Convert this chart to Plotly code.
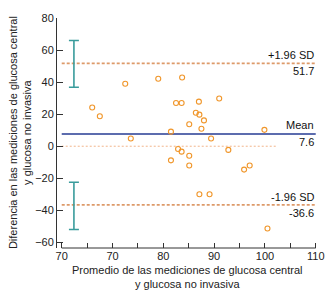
import plotly.graph_objects as go

# Data
mean_avg = [66.0, 67.5, 72.5, 73.6, 79.0, 83.7, 82.5, 83.6, 87.0, 91.0,
            86.4, 87.1, 88.0, 85.1, 87.5, 81.5, 89.4, 82.9, 83.6, 85.1,
            81.5, 85.1, 87.1, 89.1, 92.8, 99.9, 95.9, 97.0, 100.5]
difference = [24.2, 18.7, 39.0, 4.8, 42.1, 42.9, 27.0, 27.0, 27.8, 29.8,
              20.9, 19.7, 16.1, 13.7, 10.9, 9.1, 4.8, -1.7, -3.4, -5.9,
              -8.8, -12.0, -30.0, -30.0, -2.3, 10.2, -14.6, -12.0, -51.3]
mean_diff = 7.6
upper_loa = 51.7
lower_loa = -36.6
upper_ci = [36.8, 66.0]
lower_ci = [-52.0, -22.5]
ci_x = 62.4
x_start, x_end, zero_end = 60, 110, 102.3
xtick_vals = [60, 65, 70, 75, 80, 85, 90, 95, 100, 105, 110]
xtick_text = ["70", "", "70", "", "80", "", "90", "", "100", "", "110"]
ytick_vals = [80, 60, 40, 20, 0, -20, -40, -60]
x_title = "Promedio de las mediciones de glucosa central<br>y glucosa no invasiva"
y_title = "Diferencia en las mediciones de glucosa central<br>y glucosa no invasiva"

FONT = "Liberation Sans, Arial, sans-serif"
ORANGE = "#f0962a"
DASH = "#dd9a6a"
TEAL = "#3a9c9c"
BLUE = "#5c6cae"
TXT = "#222222"

fig = go.Figure()

# zero line
fig.add_trace(go.Scatter(x=[x_start, zero_end], y=[0, 0], mode="lines",
                         line=dict(color="#f2b48a", width=1, dash="2px,2px"),
                         hoverinfo="skip", showlegend=False))
# limits of agreement
for v in (upper_loa, lower_loa):
    fig.add_trace(go.Scatter(x=[x_start, x_end], y=[v, v], mode="lines",
                             line=dict(color=DASH, width=1.6, dash="3px,2px"),
                             hoverinfo="skip", showlegend=False))
# mean line
fig.add_trace(go.Scatter(x=[x_start, x_end], y=[mean_diff, mean_diff], mode="lines",
                         line=dict(color=BLUE, width=2),
                         hoverinfo="skip", showlegend=False))
# confidence intervals of limits
for lo, hi in (upper_ci, lower_ci):
    mid = (lo + hi) / 2
    fig.add_trace(go.Scatter(x=[ci_x], y=[mid], mode="markers",
                             marker=dict(size=1, opacity=0),
                             error_y=dict(type="data", array=[(hi - lo) / 2],
                                          color=TEAL, thickness=1.6, width=5),
                             hoverinfo="skip", showlegend=False))
# points
fig.add_trace(go.Scatter(x=mean_avg, y=difference, mode="markers",
                         marker=dict(symbol="circle-open", size=5, color=ORANGE,
                                     line=dict(width=1.1, color=ORANGE)),
                         showlegend=False))

# x axis line (offset from y axis)
fig.add_shape(type="line", xref="x", yref="paper", x0=x_start, x1=x_end, y0=0, y1=0,
              line=dict(color="#333333", width=1))

ann = [("+1.96 SD", upper_loa, 8), (f"{upper_loa}", upper_loa, -8),
       ("Mean", mean_diff, 9), (f"{mean_diff}", mean_diff, -8),
       ("-1.96 SD", lower_loa, 8), (f"{lower_loa}", lower_loa, -8)]
for txt, yv, sh in ann:
    fig.add_annotation(x=x_end, y=yv, xref="x", yref="y", text=txt, showarrow=False,
                       xanchor="right", yanchor="middle", yshift=sh,
                       font=dict(family=FONT, size=11, color="#111111"))

# axis titles
fig.add_annotation(x=-0.142, y=0.5, xref="paper", yref="paper", text=y_title,
                   textangle=-90, showarrow=False, xanchor="center", yanchor="middle",
                   font=dict(family=FONT, size=11, color=TXT))
fig.add_annotation(x=0.5, y=-0.127, xref="paper", yref="paper", text=x_title,
                   showarrow=False, xanchor="center", yanchor="middle",
                   font=dict(family=FONT, size=11, color=TXT))

fig.update_layout(
    width=333, height=301,
    margin=dict(l=57, r=16, t=18, b=53, autoexpand=False),
    paper_bgcolor="white", plot_bgcolor="white",
    font=dict(family=FONT, size=11, color=TXT),
    hovermode=False,
    xaxis=dict(range=[59.07, 110.25], showgrid=False, zeroline=False, showline=False,
               automargin=False,
               tickmode="array", tickvals=xtick_vals, ticktext=xtick_text,
               ticks="inside", ticklen=5, tickcolor="#333333",
               tickfont=dict(family=FONT, size=11, color=TXT)),
    yaxis=dict(range=[-63.5, 80], showgrid=False, zeroline=False, showline=True,
               automargin=False, linecolor="#333333", linewidth=1,
               tickmode="array", tickvals=ytick_vals,
               ticks="inside", ticklen=6, tickcolor="#333333",
               tickfont=dict(family=FONT, size=11, color=TXT)),
)

fig.write_html("out.html", config={"displayModeBar": False},
               post_script="document.body.style.margin='0';")
